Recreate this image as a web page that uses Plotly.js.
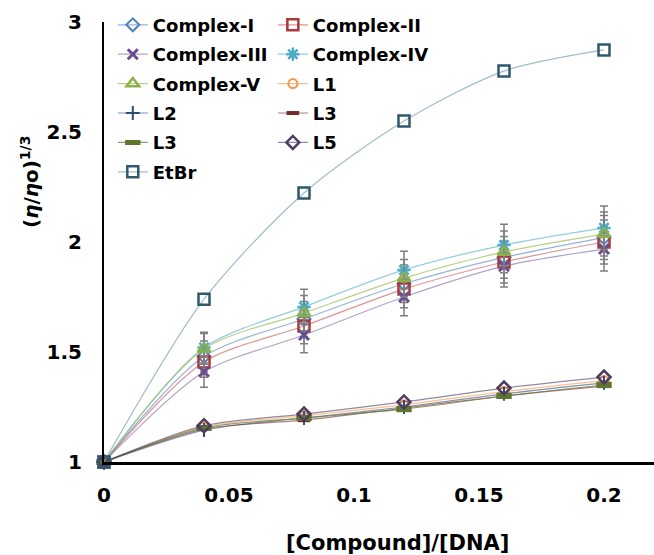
<!DOCTYPE html>
<html>
<head>
<meta charset="utf-8">
<script src="https://cdn.plot.ly/plotly-3.0.1.min.js"></script>
<style>html,body{margin:0;padding:0;background:#fff;}#chart{width:654px;height:555px;}</style>
</head>
<body>
<div id="chart"></div>
<script>
// ---- data ----
const ratio = [0, 0.04, 0.08, 0.12, 0.16, 0.2];
const complexI   = [1, 1.48, 1.65, 1.81, 1.93, 2.02];
const complexII  = [1, 1.455, 1.618, 1.786, 1.909, 2.00];
const complexIII = [1, 1.41, 1.577, 1.75, 1.89, 1.968];
const complexIV  = [1, 1.52, 1.705, 1.873, 1.986, 2.064];
const complexV   = [1, 1.514, 1.677, 1.836, 1.955, 2.036];
const complexErr = [0, 0.07, 0.08, 0.085, 0.095, 0.1];
const L1 = [1, 1.16, 1.21, 1.26, 1.32, 1.37];
const L2 = [1, 1.145, 1.20, 1.25, 1.31, 1.36];
const L3 = [1, 1.15, 1.19, 1.245, 1.30, 1.345];
const L4 = [1, 1.155, 1.20, 1.24, 1.30, 1.35];
const L5 = [1, 1.165, 1.218, 1.273, 1.336, 1.386];
const EtBr = [1, 1.74, 2.223, 2.55, 2.777, 2.873];
const seriesNames = ['Complex-I','Complex-II','Complex-III','Complex-IV','Complex-V','L1','L2','L3','L3','L5','EtBr'];
const xTicks = [0, 0.05, 0.1, 0.15, 0.2];
const yTicks = [1, 1.5, 2, 2.5, 3];

const FONT = 'DejaVu Sans, Arial, sans-serif';

function tr(name, y, col, lineCol, symbol, size, mlw, legend, err) {
  const t = {
    type: 'scatter', mode: 'lines+markers', x: ratio, y: y, name: name,
    legend: legend, legendgroup: name + legend + symbol,
    line: {shape: 'spline', smoothing: 0.8, color: lineCol, width: 1.2},
    marker: {symbol: symbol, size: size, color: col, line: {color: col, width: mlw}},
    cliponaxis: false
  };
  if (err) {
    t.error_y = {type: 'data', array: err, visible: true, color: '#7f7f7f', thickness: 1.5, width: 4};
  }
  return t;
}

const data = [
  tr(seriesNames[0], complexI, '#4F81BD', 'rgba(79,129,189,0.6)', 'diamond-open', 10, 2, 'legend', complexErr),
  tr(seriesNames[1], complexII, '#A83A37', 'rgba(192,80,77,0.6)', 'square-open', 11, 2.5, 'legend2', complexErr),
  tr(seriesNames[2], complexIII, '#6A4C93', 'rgba(128,100,162,0.6)', 'x-thin-open', 10, 3, 'legend', complexErr),
  tr(seriesNames[3], complexIV, '#4BACC6', 'rgba(75,172,198,0.6)', 'asterisk-open', 11, 2.5, 'legend2', complexErr),
  tr(seriesNames[4], complexV, '#8CB04A', 'rgba(155,187,89,0.7)', 'triangle-up-open', 11, 2.5, 'legend', complexErr),
  tr(seriesNames[5], L1, '#F79646', 'rgba(247,150,70,0.6)', 'circle-open', 9, 2, 'legend2'),
  tr(seriesNames[6], L2, '#2C4D75', 'rgba(44,77,117,0.6)', 'cross-thin-open', 10, 2, 'legend'),
  tr(seriesNames[7], L3, '#772C2A', 'rgba(119,44,42,0.6)', 'line-ew-open', 9, 4, 'legend2'),
  tr(seriesNames[8], L4, '#5F7530', 'rgba(95,117,48,0.7)', 'line-ew-open', 11, 6, 'legend'),
  tr(seriesNames[9], L5, '#4D3B62', 'rgba(77,59,98,0.6)', 'diamond-open', 10, 2.5, 'legend2'),
  tr(seriesNames[10], EtBr, '#31596E', 'rgba(120,160,180,0.7)', 'square-open', 11, 2.5, 'legend')
];

const legendBase = {
  bgcolor: 'rgba(0,0,0,0)', borderwidth: 0, orientation: 'v',
  font: {family: FONT, size: 18, color: '#000', weight: 'bold'},
  tracegroupgap: 3, yanchor: 'top', xanchor: 'left', y: 1.035
};

const layout = {
  width: 654, height: 555,
  margin: {l: 104, r: 0, t: 22, b: 93},
  paper_bgcolor: '#fff', plot_bgcolor: '#fff',
  showlegend: true,
  legend: Object.assign({}, legendBase, {x: 0.016}),
  legend2: Object.assign({}, legendBase, {x: 0.307}),
  xaxis: {
    range: [0, 0.22], tickvals: xTicks, ticktext: xTicks.map(String),
    showgrid: false, zeroline: false, showline: true, linecolor: '#000', linewidth: 3,
    ticks: '', ticklabelstandoff: 13,
    tickfont: {family: FONT, size: 20, color: '#000', weight: 'bold'}
  },
  yaxis: {
    range: [1, 3], tickvals: yTicks, ticktext: yTicks.map(String),
    showgrid: false, zeroline: false, showline: true, linecolor: '#000', linewidth: 2,
    ticks: '', ticklabelstandoff: 16,
    tickfont: {family: FONT, size: 20, color: '#000', weight: 'bold'}
  },
  annotations: [
    {text: '[Compound]/[DNA]', xref: 'paper', yref: 'paper', x: (397-104)/550, y: (462-543)/440,
     xanchor: 'center', yanchor: 'middle', showarrow: false,
     font: {family: FONT, size: 21, color: '#000', weight: 'bold'}},
    {text: '(<i>η</i>/<i>η</i>o)<sup>1/3</sup>', xref: 'paper', yref: 'paper', x: (30-104)/550, y: (462-182)/440,
     xanchor: 'center', yanchor: 'middle', showarrow: false, textangle: -90,
     font: {family: FONT, size: 20, color: '#000', weight: 'bold'}}
  ]
};

Plotly.newPlot('chart', data, layout, {displayModeBar: false, staticPlot: true});
</script>
</body>
</html>
